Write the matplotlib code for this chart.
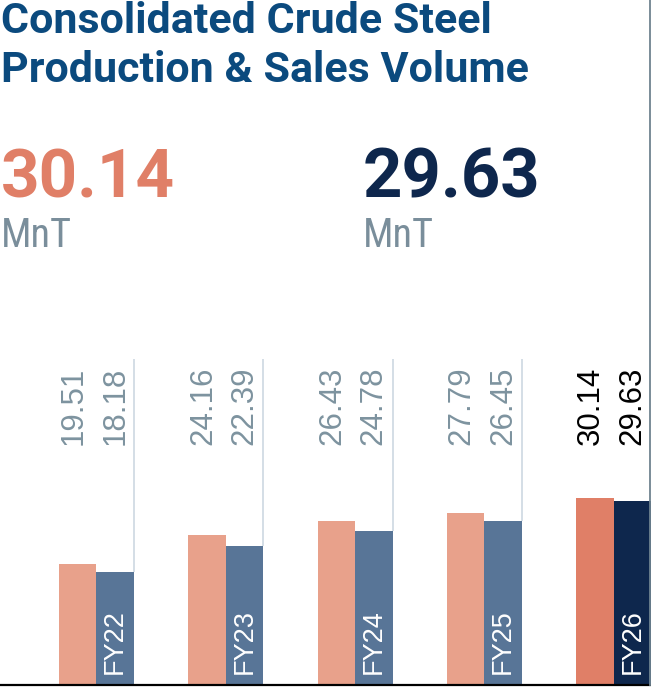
import matplotlib
matplotlib.use("Agg")
import matplotlib.pyplot as plt
from matplotlib import font_manager as fm
import numpy as np

# ---- data ----
years = ["FY22", "FY23", "FY24", "FY25", "FY26"]
production = [19.51, 24.16, 26.43, 27.79, 30.14]
sales = [18.18, 22.39, 24.78, 26.45, 29.63]
title_lines = ["Consolidated Crude Steel", "Production & Sales Volume"]
headline_prod = "30.14"
headline_sales = "29.63"
unit = "MnT"

# ---- style ----
W, H = 651, 687
DPI = 100
TITLE_C = "#0b4a7e"
PROD_C = "#e8a18b"
SALES_C = "#587597"
PROD_HL = "#e07f67"
SALES_HL = "#0e274d"
LABEL_C = "#7d939f"
UNIT_C = "#7a8e9b"
VLINE_C = "#c9d5df"
EDGE_C = "#6f8390"

names = {f.name for f in fm.fontManager.ttflist}
cond = "Roboto Condensed" in names
unit_family = "Roboto Condensed" if cond else "Roboto"
unit_size = 29 if cond else 24

fig = plt.figure(figsize=(W / DPI, H / DPI), dpi=DPI)
fig.patch.set_facecolor("white")

def fy(px):  # pixel from top -> figure fraction
    return 1 - px / H

def fx(px):
    return px / W

# title
fig.text(fx(1), fy(33), title_lines[0], family="Roboto", weight="bold",
         fontsize=31, color=TITLE_C, va="baseline", ha="left")
fig.text(fx(1), fy(82), title_lines[1], family="Roboto", weight="bold",
         fontsize=31, color=TITLE_C, va="baseline", ha="left")

# headline numbers
fig.text(fx(1), fy(197), headline_prod, family="Roboto", weight="bold",
         fontsize=48.5, color=PROD_HL, va="baseline", ha="left")
fig.text(fx(363), fy(197), headline_sales, family="Roboto", weight="bold",
         fontsize=49.5, color=SALES_HL, va="baseline", ha="left")
fig.text(fx(1), fy(247), unit, family=unit_family, fontsize=unit_size,
         color=UNIT_C, va="baseline", ha="left")
fig.text(fx(363), fy(247), unit, family=unit_family, fontsize=unit_size,
         color=UNIT_C, va="baseline", ha="left")

# ---- bar chart ----
base_px = 685
ax = fig.add_axes([0, (H - base_px) / H, 1, base_px / H])
ax.set_facecolor("none")
px_per_unit = 6.2
ymax = base_px / px_per_unit
group_px = 129.3
first_center_px = 96.5
w = 37.5 / group_px
ax.set_xlim(-first_center_px / group_px, (W - first_center_px) / group_px)
ax.set_ylim(0, ymax)

x = np.arange(len(years))
n = len(years)
pcols = [PROD_C] * (n - 1) + [PROD_HL]
scols = [SALES_C] * (n - 1) + [SALES_HL]
ax.bar(x - w, production, width=w, align="edge", color=pcols, linewidth=0)
ax.bar(x, sales, width=w, align="edge", color=scols, linewidth=0)

line_top = (base_px - 359) / px_per_unit
ax.vlines(x[:-1] + w, sales[:-1], line_top, color=VLINE_C, linewidth=1.1)

label_y = (base_px - 445) / px_per_unit
shift = 4 / group_px
for i in range(n):
    c = "black" if i == n - 1 else LABEL_C
    ax.text(x[i] - w / 2 - shift, label_y, f"{production[i]:.2f}", rotation=90,
            ha="center", va="bottom", fontsize=22.5, color=c,
            family="Liberation Sans")
    ax.text(x[i] + w / 2, label_y, f"{sales[i]:.2f}", rotation=90,
            ha="center", va="bottom", fontsize=22.5, color=c,
            family="Liberation Sans")
    ax.text(x[i] + w / 2, (base_px - 674) / px_per_unit, years[i], rotation=90,
            ha="center", va="bottom", fontsize=19.5, color="white",
            family="Liberation Sans")

for s in ["top", "left", "right"]:
    ax.spines[s].set_visible(False)
ax.spines["bottom"].set_color("black")
ax.spines["bottom"].set_linewidth(1.6)
ax.set_xticks([])
ax.set_yticks([])

# right edge border line
fig.add_artist(plt.Line2D([fx(649.6), fx(649.6)], [fy(base_px), 1],
                          transform=fig.transFigure, color=EDGE_C, linewidth=1.3))

fig.savefig("out.png", dpi=DPI, facecolor="white")
